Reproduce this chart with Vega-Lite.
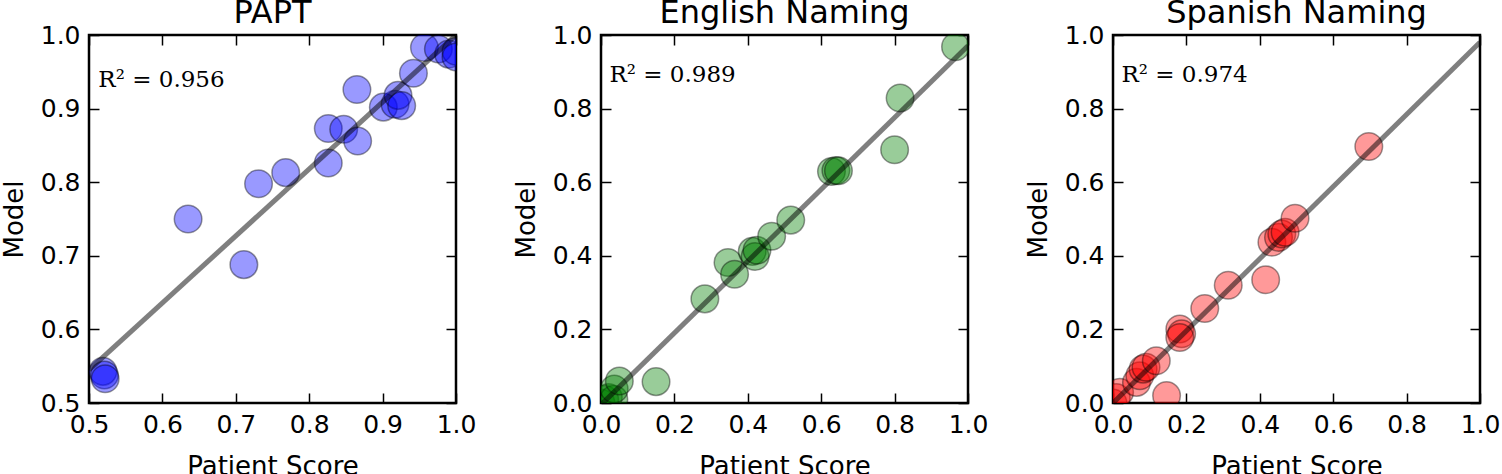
{
  "$schema": "https://vega.github.io/schema/vega-lite/v6.json",
  "padding": {"left": -1, "top": -5, "right": 0, "bottom": 0},
  "background": "white",
  "spacing": 145,
  "bounds": "flush",
  "config": {
    "view": {"stroke": "black", "strokeWidth": 2.5},
    "axis": {
      "grid": false, "domain": false, "tickColor": "black", "tickSize": -10, "tickWidth": 1.5,
      "labelFont": "DejaVu Sans", "labelFontSize": 25, "labelColor": "black", "labelPadding": 19,
      "titleFont": "DejaVu Sans", "titleFontSize": 26, "titleFontWeight": "normal", "titleColor": "black",
      "labelFlush": false, "labelOverlap": false, "format": ".1f", "minExtent": 0
    },
    "axisY": {"titlePadding": 13},
    "axisX": {"titlePadding": 16},
    "title": {"font": "DejaVu Sans", "fontSize": 32, "fontWeight": "normal", "color": "black", "frame": "group", "baseline": "alphabetic", "offset": -7},
    "text": {"font": "DejaVu Serif", "fontSize": 23, "align": "left", "baseline": "alphabetic", "color": "black"}
  },
  "hconcat": [
    {
      "title": "PAPT",
      "width": 367, "height": 368,
      "resolve": {"axis": {"x": "independent", "y": "independent"}},
      "layer": [
        {
          "data": {"values": [
            {"patient": 0.519, "model": 0.543}, {"patient": 0.521, "model": 0.538}, {"patient": 0.522, "model": 0.533},
            {"patient": 0.635, "model": 0.75}, {"patient": 0.711, "model": 0.688}, {"patient": 0.731, "model": 0.798},
            {"patient": 0.768, "model": 0.813}, {"patient": 0.826, "model": 0.826}, {"patient": 0.826, "model": 0.873},
            {"patient": 0.847, "model": 0.872}, {"patient": 0.866, "model": 0.856}, {"patient": 0.865, "model": 0.926},
            {"patient": 0.901, "model": 0.902}, {"patient": 0.917, "model": 0.906}, {"patient": 0.921, "model": 0.918},
            {"patient": 0.926, "model": 0.904}, {"patient": 0.942, "model": 0.948}, {"patient": 0.957, "model": 0.983},
            {"patient": 0.976, "model": 0.981}, {"patient": 0.99, "model": 0.974}, {"patient": 1.0, "model": 0.978},
            {"patient": 1.0, "model": 0.97}
          ]},
          "mark": {"type": "point", "shape": "circle", "filled": true, "fill": "#0000ff", "fillOpacity": 0.4, "stroke": "black", "strokeOpacity": 0.4, "strokeWidth": 1.5, "size": 760, "clip": true},
          "encoding": {
            "x": {"field": "patient", "type": "quantitative", "scale": {"domain": [0.5, 1.0], "nice": false, "zero": false}, "axis": {"orient": "bottom", "title": "Patient Score", "values": [0.5, 0.6, 0.7, 0.8, 0.9, 1.0]}},
            "y": {"field": "model", "type": "quantitative", "scale": {"domain": [0.5, 1.0], "nice": false, "zero": false}, "axis": {"orient": "left", "title": "Model", "values": [0.5, 0.6, 0.7, 0.8, 0.9, 1.0]}}
          }
        },
        {
          "data": {"values": [{"patient": 0.5, "model": 0.545}, {"patient": 1.0, "model": 1.0}]},
          "mark": {"type": "line", "color": "black", "opacity": 0.5, "strokeWidth": 5, "clip": true},
          "encoding": {
            "x": {"field": "patient", "type": "quantitative", "axis": {"orient": "top", "title": null, "labels": false, "values": [0.5, 0.6, 0.7, 0.8, 0.9, 1.0]}},
            "y": {"field": "model", "type": "quantitative", "axis": {"orient": "right", "title": null, "labels": false, "values": [0.5, 0.6, 0.7, 0.8, 0.9, 1.0]}}
          }
        },
        {
          "data": {"values": [{"label": "R² = 0.956"}]},
          "mark": {"type": "text"},
          "encoding": {
            "text": {"field": "label"},
            "x": {"datum": 0.5127, "type": "quantitative", "axis": null},
            "y": {"datum": 0.930, "type": "quantitative", "axis": null}
          }
        }
      ]
    },
    {
      "title": "English Naming",
      "width": 367, "height": 368,
      "resolve": {"axis": {"x": "independent", "y": "independent"}},
      "layer": [
        {
          "data": {"values": [
            {"patient": 0.0, "model": 0.0}, {"patient": 0.01, "model": 0.01}, {"patient": 0.02, "model": 0.015},
            {"patient": 0.035, "model": 0.01}, {"patient": 0.036, "model": 0.038}, {"patient": 0.05, "model": 0.06},
            {"patient": 0.15, "model": 0.058}, {"patient": 0.283, "model": 0.283}, {"patient": 0.346, "model": 0.382},
            {"patient": 0.364, "model": 0.35}, {"patient": 0.412, "model": 0.412}, {"patient": 0.42, "model": 0.398},
            {"patient": 0.425, "model": 0.415}, {"patient": 0.465, "model": 0.453}, {"patient": 0.517, "model": 0.497},
            {"patient": 0.628, "model": 0.629}, {"patient": 0.64, "model": 0.632}, {"patient": 0.647, "model": 0.631},
            {"patient": 0.80, "model": 0.688}, {"patient": 0.815, "model": 0.829}, {"patient": 0.966, "model": 0.968}
          ]},
          "mark": {"type": "point", "shape": "circle", "filled": true, "fill": "#008000", "fillOpacity": 0.4, "stroke": "black", "strokeOpacity": 0.4, "strokeWidth": 1.5, "size": 760, "clip": true},
          "encoding": {
            "x": {"field": "patient", "type": "quantitative", "scale": {"domain": [0, 1.0], "nice": false, "zero": false}, "axis": {"orient": "bottom", "title": "Patient Score", "values": [0, 0.2, 0.4, 0.6, 0.8, 1.0]}},
            "y": {"field": "model", "type": "quantitative", "scale": {"domain": [0, 1.0], "nice": false, "zero": false}, "axis": {"orient": "left", "title": "Model", "values": [0, 0.2, 0.4, 0.6, 0.8, 1.0]}}
          }
        },
        {
          "data": {"values": [{"patient": 0.0, "model": -0.005}, {"patient": 1.0, "model": 0.971}]},
          "mark": {"type": "line", "color": "black", "opacity": 0.5, "strokeWidth": 5, "clip": true},
          "encoding": {
            "x": {"field": "patient", "type": "quantitative", "axis": {"orient": "top", "title": null, "labels": false, "values": [0, 0.2, 0.4, 0.6, 0.8, 1.0]}},
            "y": {"field": "model", "type": "quantitative", "axis": {"orient": "right", "title": null, "labels": false, "values": [0, 0.2, 0.4, 0.6, 0.8, 1.0]}}
          }
        },
        {
          "data": {"values": [{"label": "R² = 0.989"}]},
          "mark": {"type": "text"},
          "encoding": {
            "text": {"field": "label"},
            "x": {"datum": 0.023, "type": "quantitative", "axis": null},
            "y": {"datum": 0.871, "type": "quantitative", "axis": null}
          }
        }
      ]
    },
    {
      "title": "Spanish Naming",
      "width": 367, "height": 368,
      "resolve": {"axis": {"x": "independent", "y": "independent"}},
      "layer": [
        {
          "data": {"values": [
            {"patient": 0.0, "model": 0.0}, {"patient": 0.009, "model": 0.015}, {"patient": 0.018, "model": 0.029},
            {"patient": 0.064, "model": 0.056}, {"patient": 0.073, "model": 0.074}, {"patient": 0.082, "model": 0.092},
            {"patient": 0.09, "model": 0.097}, {"patient": 0.118, "model": 0.115}, {"patient": 0.146, "model": 0.02},
            {"patient": 0.182, "model": 0.201}, {"patient": 0.187, "model": 0.188}, {"patient": 0.182, "model": 0.178},
            {"patient": 0.25, "model": 0.257}, {"patient": 0.314, "model": 0.32}, {"patient": 0.416, "model": 0.335},
            {"patient": 0.433, "model": 0.437}, {"patient": 0.451, "model": 0.45}, {"patient": 0.46, "model": 0.459},
            {"patient": 0.469, "model": 0.464}, {"patient": 0.496, "model": 0.502}, {"patient": 0.697, "model": 0.697}
          ]},
          "mark": {"type": "point", "shape": "circle", "filled": true, "fill": "#ff0000", "fillOpacity": 0.4, "stroke": "black", "strokeOpacity": 0.4, "strokeWidth": 1.5, "size": 760, "clip": true},
          "encoding": {
            "x": {"field": "patient", "type": "quantitative", "scale": {"domain": [0, 1.0], "nice": false, "zero": false}, "axis": {"orient": "bottom", "title": "Patient Score", "values": [0, 0.2, 0.4, 0.6, 0.8, 1.0]}},
            "y": {"field": "model", "type": "quantitative", "scale": {"domain": [0, 1.0], "nice": false, "zero": false}, "axis": {"orient": "left", "title": "Model", "values": [0, 0.2, 0.4, 0.6, 0.8, 1.0]}}
          }
        },
        {
          "data": {"values": [{"patient": 0.0, "model": 0.0}, {"patient": 1.0, "model": 0.98}]},
          "mark": {"type": "line", "color": "black", "opacity": 0.5, "strokeWidth": 5, "clip": true},
          "encoding": {
            "x": {"field": "patient", "type": "quantitative", "axis": {"orient": "top", "title": null, "labels": false, "values": [0, 0.2, 0.4, 0.6, 0.8, 1.0]}},
            "y": {"field": "model", "type": "quantitative", "axis": {"orient": "right", "title": null, "labels": false, "values": [0, 0.2, 0.4, 0.6, 0.8, 1.0]}}
          }
        },
        {
          "data": {"values": [{"label": "R² = 0.974"}]},
          "mark": {"type": "text"},
          "encoding": {
            "text": {"field": "label"},
            "x": {"datum": 0.023, "type": "quantitative", "axis": null},
            "y": {"datum": 0.871, "type": "quantitative", "axis": null}
          }
        }
      ]
    }
  ]
}
